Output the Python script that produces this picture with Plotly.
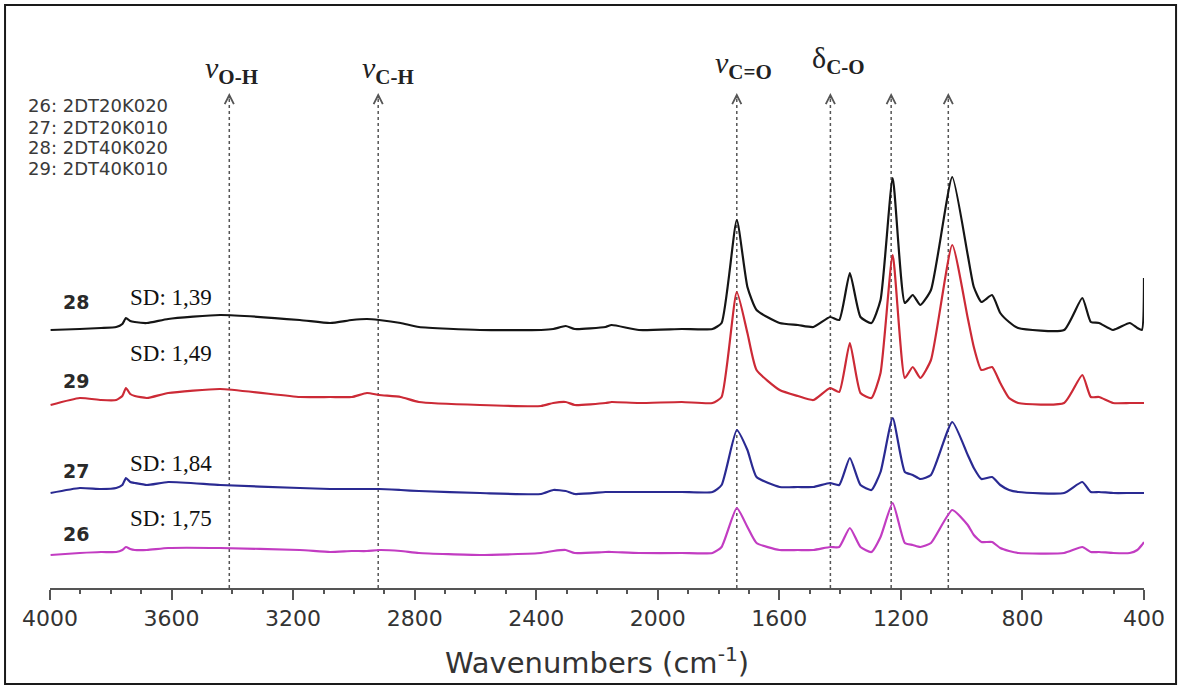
import plotly.graph_objects as go

# Wavenumber grid (cm-1) shared by all spectra
wavenumbers = [3998, 3902, 3832, 3782, 3762, 3750, 3736, 3721, 3681, 3611,
               3440, 3178, 3078, 3007, 2957, 2917, 2846, 2786, 2585, 2384,
               2344, 2303, 2273, 2172, 2152, 2062, 1921, 1820, 1790, 1740,
               1705, 1675, 1599, 1539, 1488, 1433, 1403, 1368, 1333, 1297,
               1267, 1227, 1187, 1161, 1136, 1101, 1031, 980, 960, 935,
               900, 873, 844, 814, 663, 603, 575, 548, 502, 447,
               422, 407, 400]

# Offset absorbance (arbitrary units x100)
s28 = [254, 255, 256, 257, 260, 266, 263, 262, 261, 265,
       269, 264, 261, 264, 265, 264, 261, 257, 254, 254,
       255, 258, 255, 257, 259, 254, 255, 255, 261, 364,
       297, 274, 261, 259, 257, 267, 264, 311, 267, 261,
       284, 406, 281, 289, 279, 294, 407, 329, 297, 282,
       289, 271, 262, 256, 254, 286, 262, 261, 254, 261,
       256, 254, 306]
s29 = [179, 186, 184, 184, 188, 196, 190, 188, 186, 191,
       195, 187, 187, 187, 191, 189, 187, 182, 179, 178,
       181, 182, 179, 181, 182, 181, 182, 181, 187, 292,
       251, 214, 194, 188, 184, 196, 192, 241, 191, 186,
       211, 329, 206, 217, 206, 224, 339, 266, 237, 214,
       217, 201, 186, 181, 181, 209, 187, 187, 181, 181,
       181, 181, 181]
s27 = [91, 96, 95, 96, 99, 106, 102, 101, 99, 102,
       99, 96, 95, 95, 95, 95, 94, 93, 91, 90,
       94, 93, 90, 92, 92, 92, 92, 92, 99, 154,
       134, 107, 97, 97, 97, 101, 99, 126, 99, 94,
       112, 166, 112, 109, 105, 109, 162, 129, 116, 105,
       107, 99, 94, 92, 91, 102, 92, 92, 91, 91,
       91, 91, 91]
s26 = [29, 31, 32, 32, 34, 37, 35, 34, 34, 36,
       36, 34, 32, 33, 33, 34, 33, 31, 29, 31,
       33, 34, 31, 32, 32, 31, 31, 31, 37, 76,
       57, 41, 34, 34, 34, 37, 37, 56, 37, 32,
       47, 81, 41, 39, 37, 41, 74, 59, 49, 42,
       42, 36, 33, 31, 31, 37, 32, 32, 31, 31,
       34, 39, 42]

series_names = ["28", "29", "27", "26"]
series_values = [s28, s29, s27, s26]
series_colors = ["#151515", "#cc2a36", "#2a2a92", "#c23cc2"]
sd_labels = ["SD: 1,39", "SD: 1,49", "SD: 1,84", "SD: 1,75"]
label_y = [282, 203, 113, 50]
sd_y = [287, 231, 121, 66]

legend_lines = ["26: 2DT20K020", "27: 2DT20K010", "28: 2DT40K020", "29: 2DT40K010"]
legend_y = [0.8796, 0.8412, 0.8047, 0.7664]

band_positions = [3410, 2920, 1740, 1432, 1232, 1044]
band_labels = [("<i>ν</i><sub><b>O-H</b></sub>", 3496, 514),
               ("<i>ν</i><sub><b>C-H</b></sub>", 2980, 514),
               ("<i>ν</i><sub><b>C=O</b></sub>", 1817, 519),
               ("δ<sub><b>C-O</b></sub>", 1500, 524)]

fig = go.Figure()
for name, vals, col in zip(series_names, series_values, series_colors):
    fig.add_trace(go.Scatter(x=wavenumbers, y=vals, mode="lines", name=name,
                             line=dict(color=col, width=2.2, shape="spline", smoothing=0.5),
                             showlegend=False, hoverinfo="skip"))

shapes = []
annotations = []
for wn in band_positions:
    shapes.append(dict(type="line", xref="x", yref="y", x0=wn, x1=wn, y0=-4, y1=487,
                       line=dict(color="#555555", width=1.5, dash="dot"), layer="below"))
    annotations.append(dict(x=wn, y=491, xref="x", yref="y", text="", showarrow=True,
                            ax=0, ay=7, axref="pixel", ayref="pixel", arrowhead=5,
                            arrowsize=1.5, arrowwidth=1.2, arrowcolor="#555555"))

for text, x, y in band_labels:
    annotations.append(dict(x=x, y=y, xref="x", yref="y", text=text, showarrow=False,
                            xanchor="left", yanchor="middle",
                            font=dict(family="Liberation Serif", size=30, color="#222222")))

for name, y in zip(series_names, label_y):
    annotations.append(dict(x=3914, y=y, xref="x", yref="y", text="<b>%s</b>" % name,
                            showarrow=False, xanchor="center", yanchor="middle",
                            font=dict(family="DejaVu Sans", size=19, color="#2a2a2a")))
for text, y in zip(sd_labels, sd_y):
    annotations.append(dict(x=3743, y=y, xref="x", yref="y", text=text, showarrow=False,
                            xanchor="left", yanchor="middle",
                            font=dict(family="Liberation Serif", size=23, color="#111111")))
for text, y in zip(legend_lines, legend_y):
    annotations.append(dict(x=-0.0219, y=y, xref="paper", yref="paper", text=text,
                            showarrow=False, xanchor="left", yanchor="middle",
                            font=dict(family="DejaVu Sans", size=18, color="#3a3a3a")))

annotations.append(dict(x=0.5, y=-0.133, xref="paper", yref="paper",
                        text="Wavenumbers (cm<sup>-1</sup>)", showarrow=False,
                        xanchor="center", yanchor="middle",
                        font=dict(family="DejaVu Sans", size=29, color="#333333")))

# outer frame
shapes.append(dict(type="rect", xref="paper", yref="paper",
                   x0=-0.0411, x1=1.0293, y0=-0.1752, y1=1.0639,
                   line=dict(color="#1a1a1a", width=2), fillcolor="rgba(0,0,0,0)"))

fig.update_layout(
    width=1179, height=686,
    margin=dict(l=50, r=35, t=40, b=98),
    paper_bgcolor="white", plot_bgcolor="white",
    shapes=shapes, annotations=annotations,
    xaxis=dict(range=[4000, 400], tick0=400, dtick=400, showgrid=False, zeroline=False,
               showline=True, linecolor="#555555", linewidth=2,
               ticks="outside", ticklen=10, tickwidth=2, tickcolor="#555555",
               ticklabelstandoff=0,
               tickfont=dict(family="DejaVu Sans", size=22, color="#333333"),
               minor=dict(dtick=100, tick0=400, ticks="outside", ticklen=4, tickwidth=2,
                          tickcolor="#555555")),
    yaxis=dict(range=[-4, 544], visible=False),
)

fig.write_html("out.html", config={"displayModeBar": False},
               post_script="document.body.style.margin='0';")
